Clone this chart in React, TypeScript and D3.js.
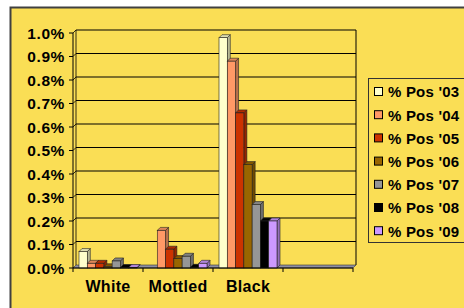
import { useEffect, useRef } from 'react';
import * as d3 from 'd3';

const categories = ['White', 'Mottled', 'Black', ''];
const seriesNames = ["% Pos '03", "% Pos '04", "% Pos '05", "% Pos '06", "% Pos '07", "% Pos '08", "% Pos '09"];
const seriesColors = ['#FFFFCC', '#FF9966', '#CC3300', '#996600', '#969696', '#000000', '#CC99FF'];
// values in percent, one array per category (order matches seriesNames)
const whiteVals = [0.07, 0.02, 0.02, 0.005, 0.03, 0.002, 0.002];
const mottledVals = [0.0, 0.16, 0.08, 0.04, 0.05, 0.003, 0.02];
const blackVals = [0.98, 0.88, 0.66, 0.44, 0.27, 0.2, 0.2];
const emptyVals = [0, 0, 0, 0, 0, 0, 0];
const yTicks = [0, 0.1, 0.2, 0.3, 0.4, 0.5, 0.6, 0.7, 0.8, 0.9, 1.0];

export default function App() {
  const svgRef = useRef<SVGSVGElement>(null);

  useEffect(() => {
    const svg = d3.select(svgRef.current);
    svg.selectAll('*').remove();
    const font = 'Arial, "Liberation Sans", sans-serif';
    const depth = 3;

    svg.append('rect').attr('width', 464).attr('height', 308).attr('fill', '#fff');
    svg.append('rect').attr('x', 10.5).attr('y', 7.5).attr('width', 470).attr('height', 320)
      .attr('fill', '#FADE55').attr('stroke', '#404040').attr('stroke-width', 2);

    const x = d3.scaleBand().domain(categories.map((c, i) => String(i))).range([73, 353]);
    const xs = d3.scaleBand().domain(seriesNames).range([6, x.bandwidth() - 6]);
    const y = d3.scaleLinear().domain([0, 1.0]).range([268, 33]);

    // floor
    svg.append('polygon')
      .attr('points', `73,${y(0)} 353,${y(0)} ${353 + depth},${y(0) - depth} ${73 + depth},${y(0) - depth}`)
      .attr('fill', '#8f8fa3').attr('stroke', '#333').attr('stroke-width', 0.6);

    // back wall gridlines
    const g = svg.append('g');
    yTicks.forEach(t => {
      if (t === 0) return;
      g.append('line').attr('x1', 73 + depth).attr('x2', 353 + depth)
        .attr('y1', y(t) - depth).attr('y2', y(t) - depth)
        .attr('stroke', '#000').attr('stroke-width', 1);
      g.append('line').attr('x1', 73).attr('x2', 73 + depth)
        .attr('y1', y(t)).attr('y2', y(t) - depth)
        .attr('stroke', '#000').attr('stroke-width', 0.8);
    });
    g.append('line').attr('x1', 353 + depth).attr('x2', 353 + depth)
      .attr('y1', y(1) - depth).attr('y2', y(0) - depth).attr('stroke', '#000');
    g.append('line').attr('x1', 73 + depth).attr('x2', 73 + depth)
      .attr('y1', y(1) - depth).attr('y2', y(0) - depth).attr('stroke', '#000').attr('stroke-width', 0.8);

    // bars
    const allVals = [whiteVals, mottledVals, blackVals, emptyVals];
    allVals.forEach((vals, ci) => {
      vals.forEach((v, si) => {
        if (v <= 0) return;
        const x0 = (x(String(ci)) as number) + (xs(seriesNames[si]) as number);
        const w = xs.bandwidth();
        const yt = y(v);
        const yb = y(0);
        const col = seriesColors[si];
        const dark = d3.color(col)!.darker(0.9).toString();
        const bg = svg.append('g').attr('stroke', '#222').attr('stroke-width', 0.6);
        bg.append('polygon')
          .attr('points', `${x0 + w},${yt} ${x0 + w + depth},${yt - depth} ${x0 + w + depth},${yb - depth} ${x0 + w},${yb}`)
          .attr('fill', dark);
        bg.append('polygon')
          .attr('points', `${x0},${yt} ${x0 + w},${yt} ${x0 + w + depth},${yt - depth} ${x0 + depth},${yt - depth}`)
          .attr('fill', d3.color(col)!.darker(0.4).toString());
        bg.append('rect').attr('x', x0).attr('y', yt).attr('width', w).attr('height', yb - yt)
          .attr('fill', col);
      });
    });

    // axes
    svg.append('line').attr('x1', 73).attr('x2', 73).attr('y1', y(1)).attr('y2', y(0) + 4)
      .attr('stroke', '#000');
    svg.append('line').attr('x1', 73).attr('x2', 353).attr('y1', y(0)).attr('y2', y(0))
      .attr('stroke', '#000');
    yTicks.forEach(t => {
      svg.append('line').attr('x1', 69).attr('x2', 73).attr('y1', y(t)).attr('y2', y(t)).attr('stroke', '#000');
      svg.append('text').attr('x', 65).attr('y', y(t)).attr('dy', '0.36em')
        .attr('text-anchor', 'end').attr('font-family', font).attr('font-weight', 'bold')
        .attr('font-size', 15.5).attr('letter-spacing', 0.6).attr('fill', '#000')
        .text(d3.format('.1f')(t) + '%');
    });
    categories.forEach((c, i) => {
      const xc = x(String(i)) as number;
      svg.append('line').attr('x1', xc + x.bandwidth()).attr('x2', xc + x.bandwidth())
        .attr('y1', y(0)).attr('y2', y(0) + 4).attr('stroke', '#000');
      svg.append('text').attr('x', xc + x.bandwidth() / 2).attr('y', 292)
        .attr('text-anchor', 'middle').attr('font-family', font).attr('font-weight', 'bold')
        .attr('font-size', 16).attr('letter-spacing', 0.3).attr('fill', '#000').text(c);
    });

    // legend
    const lg = svg.append('g');
    lg.append('rect').attr('x', 368.5).attr('y', 78.5).attr('width', 110).attr('height', 164)
      .attr('fill', '#FADE55').attr('stroke', '#333');
    seriesNames.forEach((s, i) => {
      const cy = 92 + i * 23.2;
      lg.append('rect').attr('x', 374.5).attr('y', cy - 4.5).attr('width', 8).attr('height', 8)
        .attr('fill', seriesColors[i]).attr('stroke', '#000');
      lg.append('text').attr('x', 388).attr('y', cy).attr('dy', '0.36em')
        .attr('font-family', font).attr('font-weight', 'bold').attr('font-size', 15)
        .attr('letter-spacing', 0.2).attr('fill', '#000').text(s);
    });
  }, []);

  return (
    <svg ref={svgRef} width={464} height={308}
      style={{ position: 'absolute', left: 0, top: 0 }} />
  );
}
